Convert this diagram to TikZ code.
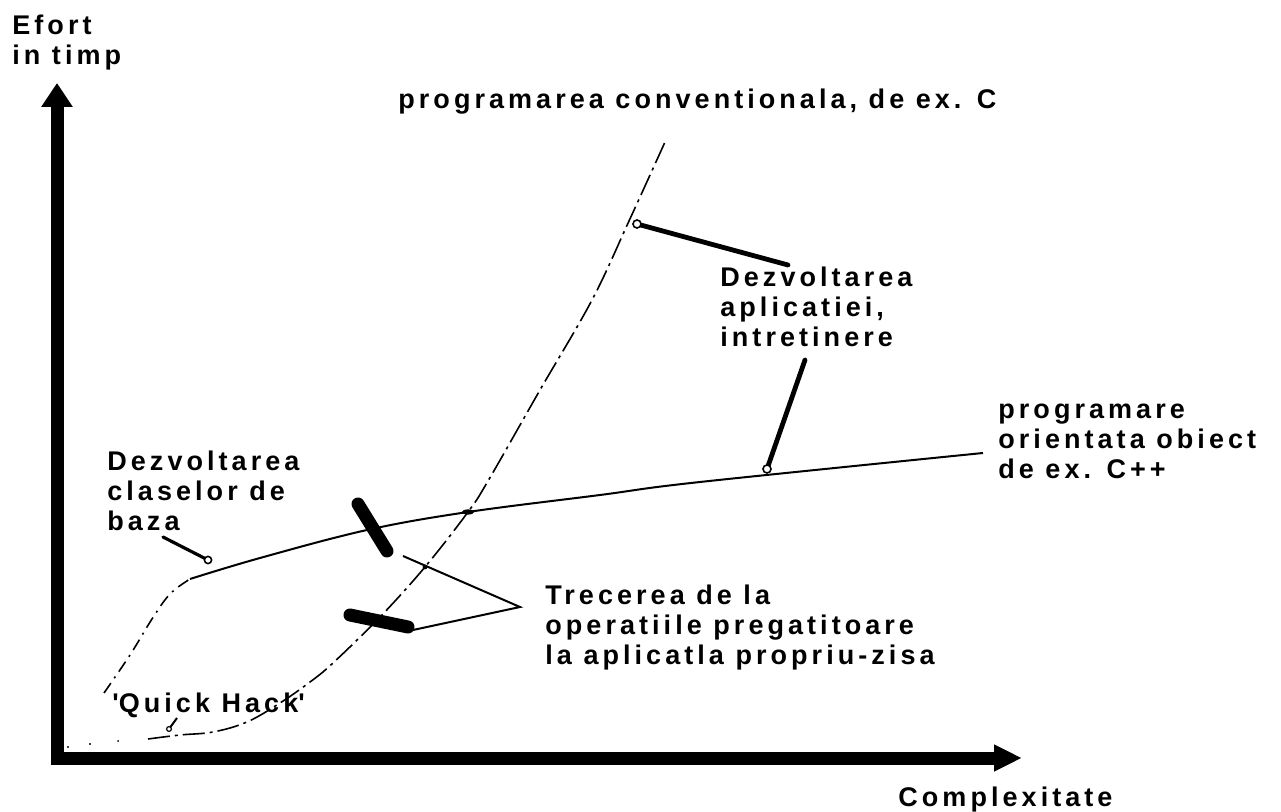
\documentclass[tikz,border=0pt]{standalone}
\usepackage{fontspec}
\setmainfont{Liberation Sans}[LetterSpace=15]
\usetikzlibrary{arrows.meta}
\begin{document}
\begin{tikzpicture}[x=0.5pt,y=-0.5pt,
  lbl/.style={font=\bfseries\fontsize{13.5pt}{15pt}\selectfont, inner sep=0pt, anchor=base west},
  axisline/.style={line width=6.5pt, line join=miter},
  ccurve/.style={line width=0.8pt, dash pattern=on 11pt off 2.5pt on 1.5pt off 2.5pt},
  oopcurve/.style={line width=1pt},
  oopsparse/.style={line width=0.8pt, dash pattern=on 6pt off 3pt on 1pt off 3pt},
  leaderline/.style={line width=2.4pt, line cap=round},
  eyering/.style={line width=0.8pt, fill=white},
  barline/.style={line width=6.5pt, line cap=round},
  thinline/.style={line width=1pt}
]
\useasboundingbox (0,0) rectangle (1281,812);

% axes
\coordinate (ytip) at (57,83);
\coordinate (orig) at (57,758);
\coordinate (xtip) at (1022,758);
\draw[axisline, {Triangle[length=12pt,width=15pt]}-{Triangle[length=14pt,width=12.5pt]}] (ytip) -- (orig) -- (xtip);

% labels
\node[lbl] (ef1) at (12,35) {Efort};
\node[lbl] (ef2) at (12,65) {in timp};
\node[lbl] (cx) at (898,806) {Complexitate};
\node[lbl] (pc) at (398,109) {programarea conventionala, de ex. C};
\node[lbl] (da1) at (720,287) {Dezvoltarea};
\node[lbl] (da2) at (720,317) {aplicatiei,};
\node[lbl] (da3) at (720,347) {intretinere};
\node[lbl] (oo1) at (998,419) {programare};
\node[lbl] (oo2) at (998,449) {orientata obiect};
\node[lbl] (oo3) at (998,479) {de ex. C++};
\node[lbl] (dc1) at (107,471) {Dezvoltarea};
\node[lbl] (dc2) at (107,501) {claselor de};
\node[lbl] (dc3) at (107,531) {baza};
\node[lbl] (tr1) at (545,605) {Trecerea de la};
\node[lbl] (tr2) at (545,635) {operatiile pregatitoare};
\node[lbl] (tr3) at (545,665) {la aplicatla propriu-zisa};
\node[lbl] (qh) at (112,712) {\textquotesingle Quick Hack\textquotesingle};

% conventional programming curve
\draw[ccurve] plot[smooth, tension=0.6] coordinates {(148,739) (180,735) (213,732) (247,722) (280,703) (310,682) (333,663) (380,617) (425,567) (468,512) (488,481) (540,390) (592,300) (629,221) (665,142)};
\fill (68,747) circle[radius=0.6pt] (90,744) circle[radius=0.6pt] (118,741) circle[radius=0.5pt];

% object oriented curve
\draw[oopsparse] plot[smooth, tension=0.6] coordinates {(104,693) (130,655) (152,619) (170,594) (190,579)};
\draw[oopcurve] plot[smooth, tension=0.6] coordinates {(190,579) (260,558) (367,530) (468,512) (600,495) (700,482) (983,453)};
\fill (468,512) ellipse[x radius=3pt, y radius=1.3pt];
\fill (425,567) circle[radius=1.2pt];

% leaders
\coordinate (l3a) at (788,265);
\coordinate (l3b) at (637,224);
\draw[leaderline] (l3a) -- (l3b);
\draw[eyering] (l3b) circle[radius=2pt];
\coordinate (l2a) at (805,360);
\coordinate (l2b) at (767,469);
\draw[leaderline] (l2a) -- (l2b);
\draw[eyering] (l2b) circle[radius=2pt];
\coordinate (l1a) at (163,537);
\coordinate (l1b) at (208,560);
\draw[leaderline, line width=1.6pt] (l1a) -- (l1b);
\draw[eyering] (l1b) circle[radius=1.8pt];
\coordinate (qa) at (177,718);
\coordinate (qb) at (169,729);
\draw[thinline] (qa) -- (qb);
\draw[eyering, line width=0.6pt] (qb) circle[radius=1.2pt];

% transition bars and bracket
\coordinate (b1a) at (358,504);
\coordinate (b1b) at (387,551);
\coordinate (b2a) at (350,615);
\coordinate (b2b) at (408,627);
\draw[barline] (b1a) -- (b1b);
\draw[barline] (b2a) -- (b2b);
\coordinate (brs1) at (403,556);
\coordinate (brs2) at (413,630);
\coordinate (brtip) at (520,607);
\draw[thinline] (brs1) -- (brtip) -- (brs2);
\end{tikzpicture}
\end{document}
